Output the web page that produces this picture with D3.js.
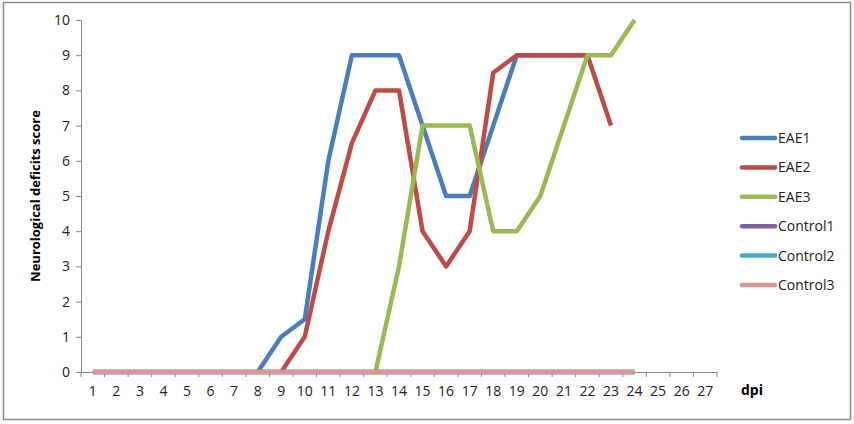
<!DOCTYPE html>
<html><head><meta charset="utf-8">
<script src="https://cdn.jsdelivr.net/npm/d3@7"></script>
<style>body{margin:0;background:#fff;} text{font-family:"Open Sans","Liberation Sans",sans-serif;}</style>
</head><body><svg id="c" width="854" height="424"></svg>
<script>
const days = d3.range(1, 28).map(String);
const yTicks = [0,1,2,3,4,5,6,7,8,9,10];
const seriesNames = ["EAE1","EAE2","EAE3","Control1","Control2","Control3"];
const seriesColors = ["#4A7EBB","#BE4B48","#98B954","#7D60A0","#46AAC5","#D99694"];
// values by day (null = no data)
const eae1Days = [8,9,10,11,12,13,14,15,16,17,18,19,20,21,22];
const eae1Vals = [0,1,1.5,6,9,9,9,7,5,5,7,9,9,9,9];
const eae2Days = [9,10,11,12,13,14,15,16,17,18,19,20,21,22,23];
const eae2Vals = [0,1,4,6.5,8,8,4,3,4,8.5,9,9,9,9,7];
const eae3Days = [13,14,15,16,17,18,19,20,21,22,23,24];
const eae3Vals = [0,3,7,7,7,4,4,5,7,9,9,10];
const ctrlDays = d3.range(1,25);
const control1Vals = ctrlDays.map(()=>0);
const control2Vals = ctrlDays.map(()=>0);
const control3Vals = ctrlDays.map(()=>0);

const seriesData = [
  [eae1Days, eae1Vals],[eae2Days, eae2Vals],[eae3Days, eae3Vals],
  [ctrlDays, control1Vals],[ctrlDays, control2Vals],[ctrlDays, control3Vals]
];

const svg = d3.select("#c");
svg.append("rect").attr("x",3.5).attr("y",2.5).attr("width",847).attr("height",417)
  .attr("fill","#fff").attr("stroke","#8c8c8c").attr("stroke-width",1.5);

const x0 = 81, x1 = 717, yTop = 20, yBot = 372;
const x = d3.scaleBand().domain(days).range([x0, x1]);
const y = d3.scaleLinear().domain([0,10]).range([yBot, yTop]);
const axisColor = "#868686";

// y axis
const gy = svg.append("g").attr("transform",`translate(${x0},0)`)
  .call(d3.axisLeft(y).tickValues(yTicks).tickSize(5).tickPadding(6));
gy.select(".domain").attr("stroke",axisColor);
gy.selectAll(".tick line").attr("stroke",axisColor);
gy.selectAll(".tick text").attr("font-size",14).attr("fill","#222");

// x axis
const gx = svg.append("g").attr("transform",`translate(0,${yBot})`)
  .call(d3.axisBottom(x).tickSize(0).tickPadding(14));
gx.select(".domain").attr("stroke",axisColor);
gx.selectAll(".tick text").attr("font-size",14).attr("fill","#222");
// ticks between categories
gx.selectAll(".bt").data(d3.range(days.length+1)).enter().append("line")
  .attr("x1",i=>x0+i*x.bandwidth()).attr("x2",i=>x0+i*x.bandwidth())
  .attr("y1",0).attr("y2",5).attr("stroke",axisColor);

const line = d3.line().x(d=>x(String(d[0]))+x.bandwidth()/2).y(d=>y(d[1]));
seriesData.forEach((s,i)=>{
  const pts = s[0].map((d,j)=>[d, s[1][j]]);
  svg.append("path").datum(pts).attr("d",line).attr("fill","none")
    .attr("stroke",seriesColors[i]).attr("stroke-width",4.5).attr("stroke-linejoin","round");
});

// axis titles
svg.append("text").attr("transform","translate(40,196) rotate(-90)")
  .attr("text-anchor","middle").attr("font-weight","bold").attr("font-size",13)
  .attr("fill","#000").text("Neurological deficits score");
svg.append("text").attr("x",741).attr("y",395).attr("font-weight","bold")
  .attr("font-size",14).attr("fill","#000").text("dpi");

// legend
const lg = svg.append("g");
seriesNames.forEach((n,i)=>{
  const yy = 138 + i*29.4;
  lg.append("line").attr("x1",742).attr("x2",775).attr("y1",yy).attr("y2",yy)
    .attr("stroke",seriesColors[i]).attr("stroke-width",4.5).attr("stroke-linecap","round");
  lg.append("text").attr("x",778).attr("y",yy+5).attr("font-size",14).attr("fill","#222").text(n);
});
</script></body></html>
